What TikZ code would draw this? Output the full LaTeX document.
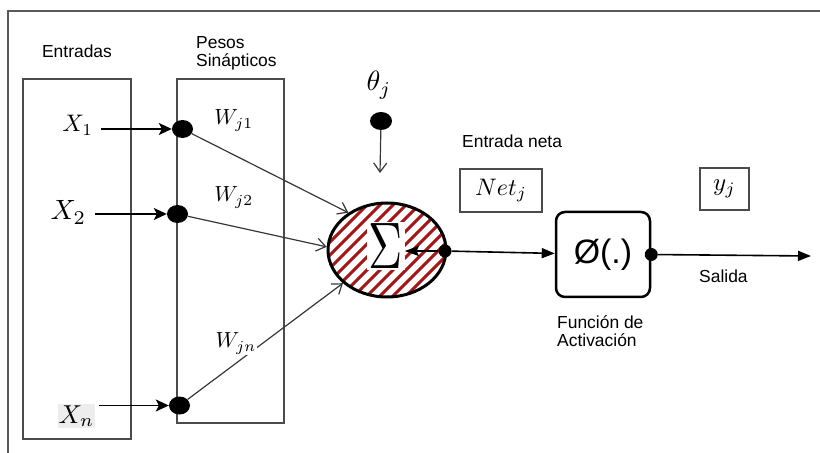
\documentclass[tikz,border=0pt]{standalone}
\usepackage[no-math]{fontspec}
\setmainfont{Liberation Sans}
\usepackage{graphicx}
\usetikzlibrary{arrows.meta,shapes.geometric}

\definecolor{framegray}{RGB}{90,90,90}
\definecolor{boxgray}{RGB}{75,75,75}
\definecolor{linkgray}{RGB}{55,55,55}
\definecolor{hatchred}{RGB}{165,22,22}

\tikzset{
  frame/.style={draw=framegray, line width=2bp},
  panel/.style={draw=boxgray, line width=1.5bp, inner sep=0},
  tagbox/.style={draw=boxgray, line width=1.5bp, inner sep=0},
  txt/.style={inner sep=0, font=\fontsize{17.5}{18.5}\selectfont, align=left},
  % math labels are set at 10pt and scaled up to the wanted size
  var/.style={inner sep=0, font=\fontsize{10}{10}\selectfont, scale=#1/10},
  bigdot/.style={ellipse, fill=black, inner sep=0,
                 minimum width=21bp, minimum height=18bp},
  smalldot/.style={circle, fill=black, inner sep=0, minimum size=13bp},
  feed/.style={draw=black, line width=1.5bp,
               -{Stealth[length=13bp,width=12bp,inset=3bp]}},
  link/.style={draw=linkgray, line width=1.2bp,
               -{Straight Barb[length=9bp,width=13bp]}},
  flow/.style={draw=black, line width=1.6bp,
               -{Triangle[length=13bp,width=10bp]}},
  hatched/.style={path picture={
      \foreach \c in {-156,-143,...,156}
        \draw[hatchred, line width=3bp]
          ([shift={(\c-70,70)}]path picture bounding box.center) --
          ([shift={(\c+70,-70)}]path picture bounding box.center);}},
}

\begin{document}
\begin{tikzpicture}[x=1bp,y=-1bp]
\useasboundingbox (0,0) rectangle (820,453);

% outer frame (top and left edges)
\draw[frame] (8,453) -- (8,11) -- (820,11);

% input and weight panels
\node[panel, minimum width=108bp, minimum height=360bp] (inpanel) at (77,259) {};
\node[panel, minimum width=107bp, minimum height=344bp] (wpanel) at (230.5,251) {};

% headings (multi-line nodes sit on the baseline of their last line)
\node[txt, anchor=base] (lblin) at (77,58) {Entradas};
\node[txt, anchor=base west] (lblw) at (196,67) {Pesos\\Sinápticos};
\node[txt, anchor=base west] (lblnet) at (462,148) {Entrada neta};
\node[txt, anchor=base west] (lblout) at (699,283) {Salida};
\node[txt, anchor=base west] (lblact) at (557,347) {Función de\\Activación};

% inputs
\node[var=24, anchor=base west] (x1) at (62,132) {$X_1$};
\node[var=28, anchor=base west] (x2) at (50,220) {$X_2$};
\node[var=26, anchor=base west, fill=black!7, inner sep=0.4bp] (xn) at (57,423) {$X_n$};

% synapse junctions
\node[bigdot] (d1) at (182.5,129) {};
\node[bigdot] (d2) at (177.5,214) {};
\node[bigdot] (dn) at (179.5,405.5) {};

% weights
\node[var=22, anchor=base west] (w1) at (214,125) {$W_{j1}$};
\node[var=22, anchor=base west] (w2) at (214,202) {$W_{j2}$};

% bias
\node[var=28, anchor=base west] (theta) at (366,91) {$\theta_j$};
\node[ellipse, fill=black, inner sep=0, minimum width=22bp, minimum height=18bp] (tdot) at (381,121) {};
\coordinate (ttip) at (380,173);

% summing junction
\node[ellipse, draw=black, line width=3bp, fill=white,
      minimum width=118bp, minimum height=94bp, hatched] (sigma) at (387,250) {};
\node[fill=white, inner sep=1.5bp] (sigsym) at (386,246)
  {\fontsize{10}{10}\selectfont\scalebox{4.75}[6.6]{$\Sigma$}};
\node[smalldot] (sdot) at (445,251) {};

% net input and output tags
\node[tagbox, minimum width=82bp, minimum height=43bp] (net) at (501,190.5) {};
\node[var=24] (netlbl) at (net) {$Net_j$};
\node[tagbox, minimum width=49bp, minimum height=42bp] (yout) at (724.5,189) {};
\node[var=25] (ylbl) at (yout) {$y_j$};

% activation block
\node[draw=black, line width=2.5bp, rounded corners=9bp, inner sep=0,
      minimum width=94bp, minimum height=85bp,
      font=\fontsize{34}{34}\selectfont] (phi) at (603,254.5) {Ø(.)};
\node[smalldot] (odot) at (phi.east) {};
\coordinate (outtip) at (811,256);

% connectors
\draw[feed, shorten <=8bp] (x1.east |- d1) -- (d1);
\draw[feed, shorten <=8bp] (x2.east |- d2) -- (d2);
\draw[feed, shorten <=3bp] (xn.east |- dn) -- (dn);

\draw[link] (d1) -- (sigma.136);
\draw[link] (d2) -- (sigma.177);
\draw[link] (dn) -- (sigma.217);
\draw[link] (tdot) -- (ttip);

\draw[draw=black, line width=1.6bp, -{Stealth[length=14bp,width=10bp,inset=2bp]}]
  (sdot) -- (sdot -| sigsym.east);
\draw[flow] (sdot) -- (phi);
\draw[flow] (odot) -- (outtip);

% weight label that sits on its connector
\node[var=22, anchor=base west, fill=white, inner sep=0.5bp] (wn) at (214,348) {$W_{jn}$};
\end{tikzpicture}
\end{document}
